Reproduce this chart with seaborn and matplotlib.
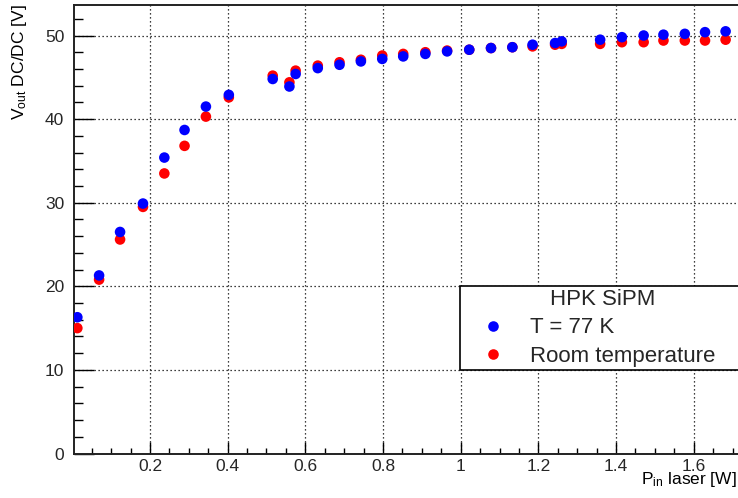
import numpy as np
import pandas as pd
import matplotlib
matplotlib.use("Agg")
import matplotlib.pyplot as plt
from matplotlib.ticker import MultipleLocator, FuncFormatter
import seaborn as sns

# Laser input power [W]
p_in = [0.013, 0.069, 0.123, 0.182, 0.237, 0.289, 0.344, 0.403, 0.516, 0.559,
        0.575, 0.632, 0.688, 0.743, 0.798, 0.852, 0.909, 0.965, 1.022, 1.078,
        1.133, 1.185, 1.243, 1.260, 1.359, 1.415, 1.471, 1.522, 1.577, 1.629,
        1.682]

# DC/DC output voltage [V], T = 77 K
v_cold = [16.3, 21.3, 26.5, 29.9, 35.4, 38.7, 41.5, 42.9, 44.8, 43.9,
          45.4, 46.1, 46.5, 46.9, 47.2, 47.5, 47.8, 48.1, 48.3, 48.5,
          48.6, 48.9, 49.1, 49.3, 49.5, 49.8, 50.0, 50.1, 50.2, 50.4,
          50.5]

# DC/DC output voltage [V], room temperature
v_room = [15.0, 20.8, 25.6, 29.5, 33.5, 36.8, 40.3, 42.6, 45.2, 44.4,
          45.8, 46.4, 46.8, 47.1, 47.6, 47.8, 48.0, 48.2, 48.3, 48.5,
          48.6, 48.7, 48.9, 49.0, 49.0, 49.2, 49.2, 49.4, 49.4, 49.4,
          49.5]

legend_title = "HPK SiPM"
series_names = ["T = 77 K", "Room temperature"]
series_colors = ["#0000ff", "#ff0000"]

sns.set_theme(style="white")
plt.rcParams["font.family"] = ["Liberation Sans", "DejaVu Sans"]
plt.rcParams["mathtext.fontset"] = "custom"
plt.rcParams["mathtext.rm"] = "Liberation Sans"
plt.rcParams["mathtext.it"] = "Liberation Sans:italic"

# room temperature rows first so the 77 K points sit on top
df = pd.concat([
    pd.DataFrame({"p": p_in, "v": v_room, "set": series_names[1]}),
    pd.DataFrame({"p": p_in, "v": v_cold, "set": series_names[0]}),
], ignore_index=True)

W, H = 738, 498
fig = plt.figure(figsize=(W / 100, H / 100), dpi=100)
fig.patch.set_facecolor("white")

x0_px, x1_px = 74, 742.5
y_top_px, y_bot_px = 5, 453.5
ax = fig.add_axes([x0_px / W, 1 - y_bot_px / H,
                   (x1_px - x0_px) / W, (y_bot_px - y_top_px) / H])

sns.scatterplot(data=df, x="p", y="v", hue="set", hue_order=series_names,
                palette=dict(zip(series_names, series_colors)),
                s=58, linewidth=0, edgecolor="none", ax=ax, zorder=3)

ax.set_xlim(0.0044, 1.7255)
ax.set_ylim(0, 53.65)

ax.xaxis.set_major_locator(MultipleLocator(0.2))
ax.xaxis.set_minor_locator(MultipleLocator(0.05))
ax.yaxis.set_major_locator(MultipleLocator(10))
ax.yaxis.set_minor_locator(MultipleLocator(2))
ax.xaxis.set_major_formatter(FuncFormatter(lambda v, _: "" if v < 0.1 else f"{v:g}"))
ax.yaxis.set_major_formatter(FuncFormatter(lambda v, _: f"{v:g}"))

ax.tick_params(axis="x", which="major", direction="in", length=8.5, width=1,
               color="black", labelsize=12.5, pad=4, bottom=True, top=False)
ax.tick_params(axis="x", which="minor", direction="in", length=4, width=1,
               color="black", bottom=True, top=False)
ax.tick_params(axis="y", which="major", direction="in", length=14.5, width=1,
               color="black", labelsize=12.5, pad=7, left=True, right=False)
ax.tick_params(axis="y", which="minor", direction="in", length=6.5, width=1,
               color="black", left=True, right=False)

ax.grid(True, which="major", color="black", linestyle=(0, (1, 2.2)), linewidth=0.9)
ax.set_axisbelow(True)

for side in ["left", "bottom", "top", "right"]:
    ax.spines[side].set_color("#222222")
    ax.spines[side].set_linewidth(1.4)

ax.set_xlabel("")
ax.set_ylabel("")

fig.text(20 / W, 1 - 4 / H, r"V$_{\mathrm{out}}$ DC/DC [V]", rotation=90,
         ha="center", va="top", fontsize=12.5, color="black")
fig.text(737 / W, 1 - 484 / H, r"P$_{\mathrm{in}}$ laser [W]",
         ha="right", va="baseline", fontsize=12.5, color="black")

handles, labels = ax.get_legend_handles_labels()
leg = ax.legend(handles, labels, title=legend_title,
                loc="upper left",
                bbox_to_anchor=(460 / W, 1 - 286 / H, (745 - 460) / W, 0),
                bbox_transform=fig.transFigure, mode="expand",
                fontsize=16, title_fontsize=16, frameon=True, fancybox=False,
                edgecolor="black", framealpha=1, borderpad=0.15,
                labelspacing=0.32, handletextpad=0.3, borderaxespad=0,
                handlelength=2.7, markerscale=1.0)
leg.get_frame().set_linewidth(1.2)

fig.savefig("out.png", dpi=100, facecolor="white")
